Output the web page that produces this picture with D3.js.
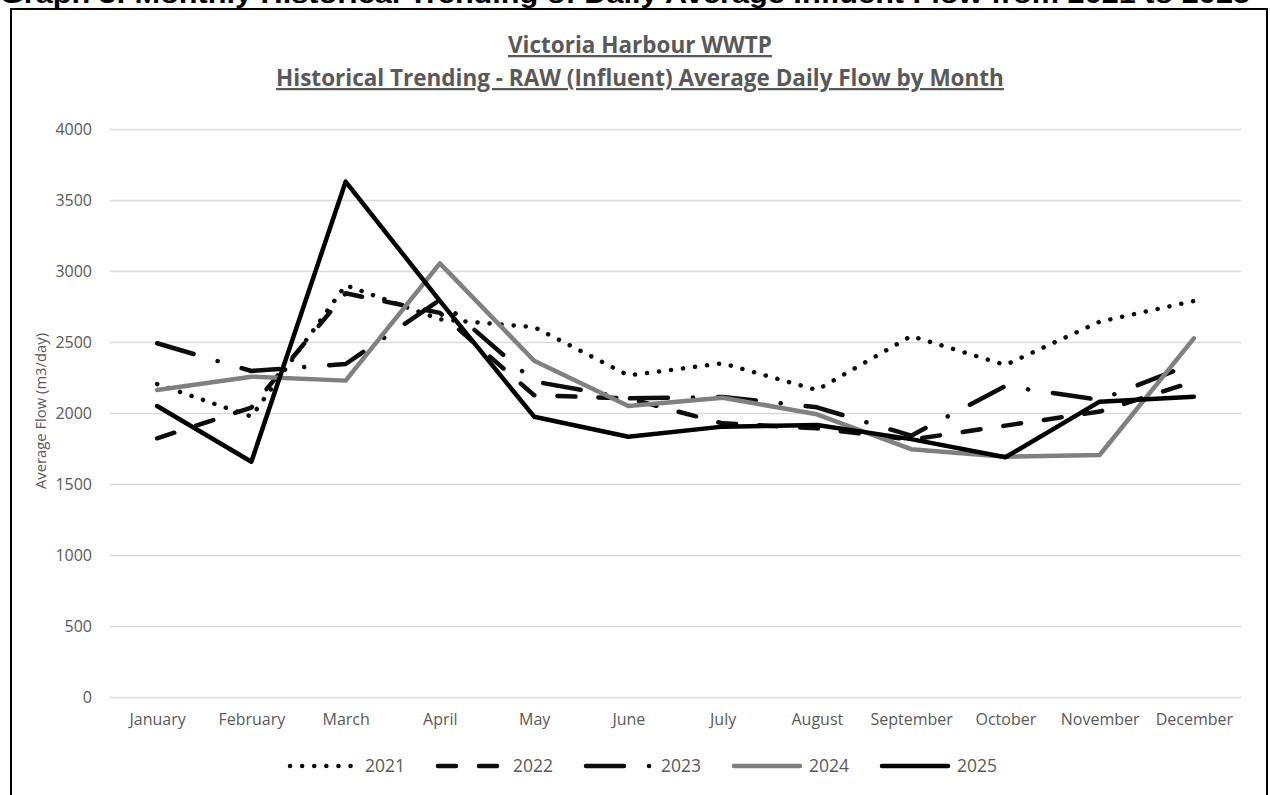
<!DOCTYPE html>
<html lang="en">
<head>
<meta charset="UTF-8">
<title>Victoria Harbour WWTP</title>
<script src="https://d3js.org/d3.v7.min.js"></script>
<style>
    * { margin: 0; padding: 0; box-sizing: border-box; }
    body { background: #fff; width: 1270px; height: 795px; overflow: hidden; }
    svg { display: block; }
</style>
</head>
<body>
<div id="chart"></div>
<script>
    // data
    const months = ["January", "February", "March", "April", "May", "June",
        "July", "August", "September", "October", "November", "December"];
    const years = ["2021", "2022", "2023", "2024", "2025"];
    const flow2021 = [2204, 1975, 2900, 2660, 2605, 2265, 2350, 2162, 2542, 2338, 2643, 2789];
    const flow2022 = [1822, 2038, 2843, 2705, 2125, 2103, 1927, 1892, 1812, 1911, 2010, 2221];
    const flow2023 = [2491, 2296, 2345, 2796, 2222, 2103, 2113, 2040, 1840, 2190, 2092, 2350];
    const flow2024 = [2162, 2256, 2228, 3054, 2368, 2049, 2108, 1991, 1745, 1692, 1704, 2526];
    const flow2025 = [2049, 1657, 3629, 2790, 1974, 1833, 1904, 1915, 1816, 1688, 2080, 2115];
    const yTicks = [0, 500, 1000, 1500, 2000, 2500, 3000, 3500, 4000];

    const seriesValues = [flow2021, flow2022, flow2023, flow2024, flow2025];

    // line look per year (Excel style dots/dashes)
    const styles = {
        "2021": { color: "#0d0d0d", dash: "0.1 12" },
        "2022": { color: "#0d0d0d", dash: "18 23" },
        "2023": { color: "#0d0d0d", dash: "38 25 0.1 25" },
        "2024": { color: "#808080", dash: null },
        "2025": { color: "#000000", dash: null }
    };

    const W = 1270, H = 795;
    const plot = { left: 110, right: 1241, top: 129, bottom: 697 };
    const labelFont = "'Open Sans', 'DejaVu Sans', sans-serif";
    const grey = "#595959";

    const svg = d3.select("#chart").append("svg")
        .attr("width", W)
        .attr("height", H);

    // heading above the frame, cut off by the page top like in the original
    svg.append("text")
        .attr("x", 0)
        .attr("y", 3)
        .attr("textLength", 1250)
        .attr("lengthAdjust", "spacingAndGlyphs")
        .style("font-family", "'Liberation Sans', Arial, sans-serif")
        .style("font-weight", "bold")
        .style("font-size", "26px")
        .style("fill", "#000")
        .text("Graph 3: Monthly Historical Trending of Daily Average Influent Flow from 2021 to 2025");

    // frame
    svg.append("rect")
        .attr("x", 11)
        .attr("y", 9)
        .attr("width", 1256)
        .attr("height", 820)
        .attr("fill", "none")
        .attr("stroke", "#000")
        .attr("stroke-width", 2);

    // titles
    const titles = ["Victoria Harbour WWTP",
        "Historical Trending - RAW (Influent) Average Daily Flow by Month"];
    svg.selectAll(".title")
        .data(titles)
        .join("text")
        .attr("class", "title")
        .attr("x", 640)
        .attr("y", (d, i) => 53 + i * 33)
        .attr("text-anchor", "middle")
        .style("font-family", labelFont)
        .style("font-weight", "bold")
        .style("font-size", "22.5px")
        .style("text-decoration", "underline")
        .style("fill", grey)
        .text(d => d);

    const x = d3.scalePoint()
        .domain(months)
        .range([plot.left, plot.right])
        .padding(0.5);

    const y = d3.scaleLinear()
        .domain([0, 4000])
        .range([plot.bottom, plot.top]);

    // y axis with gridlines
    const yAxis = svg.append("g")
        .attr("transform", `translate(${plot.left},0)`)
        .call(d3.axisLeft(y)
            .tickValues(yTicks)
            .tickFormat(d3.format("d"))
            .tickSize(-(plot.right - plot.left))
            .tickPadding(18));
    yAxis.select(".domain").remove();
    yAxis.selectAll(".tick line")
        .attr("stroke", "#d9d9d9")
        .attr("stroke-width", 1.5);
    yAxis.selectAll(".tick text")
        .style("font-family", labelFont)
        .style("font-size", "16px")
        .style("fill", grey);

    // x axis labels
    const xAxis = svg.append("g")
        .attr("transform", `translate(0,${plot.bottom})`)
        .call(d3.axisBottom(x).tickSize(0).tickPadding(17));
    xAxis.select(".domain").remove();
    xAxis.selectAll(".tick text")
        .style("font-family", labelFont)
        .style("font-size", "16px")
        .style("fill", grey);

    // y axis title
    svg.append("text")
        .attr("transform", "translate(46,411) rotate(-90)")
        .attr("text-anchor", "middle")
        .style("font-family", labelFont)
        .style("font-size", "14.8px")
        .style("fill", grey)
        .text("Average Flow (m3/day)");

    // series lines
    const line = d3.line()
        .x((d, i) => x(months[i]))
        .y(d => y(d));

    svg.selectAll(".series")
        .data(years)
        .join("path")
        .attr("class", "series")
        .attr("fill", "none")
        .attr("stroke", d => styles[d].color)
        .attr("stroke-width", 4.5)
        .attr("stroke-linecap", "round")
        .attr("stroke-linejoin", "round")
        .attr("stroke-dasharray", d => styles[d].dash)
        .attr("d", (d, i) => line(seriesValues[i]));

    // legend
    const legend = svg.append("g")
        .attr("transform", "translate(290,766)");
    const item = legend.selectAll(".item")
        .data(years)
        .join("g")
        .attr("class", "item")
        .attr("transform", (d, i) => `translate(${i * 148},0)`);
    item.append("line")
        .attr("x1", 0)
        .attr("x2", 66)
        .attr("y1", 0)
        .attr("y2", 0)
        .attr("stroke", d => styles[d].color)
        .attr("stroke-width", 4.5)
        .attr("stroke-linecap", "round")
        .attr("stroke-dasharray", d => styles[d].dash);
    item.append("text")
        .attr("x", 75)
        .attr("dy", "0.35em")
        .style("font-family", labelFont)
        .style("font-size", "17.5px")
        .style("fill", grey)
        .text(d => d);
</script>
</body>
</html>
